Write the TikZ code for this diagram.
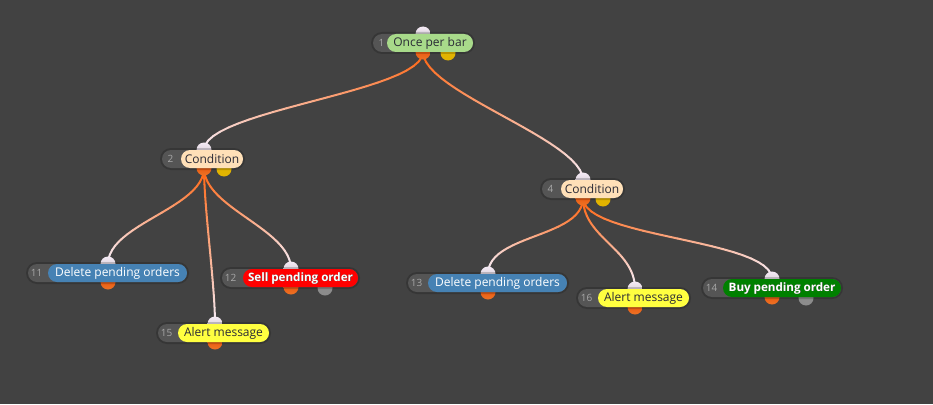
\documentclass[tikz,border=0pt]{standalone}
\usepackage{fontspec}
\setmainfont{Open Sans}
\definecolor{bg}{HTML}{424242}
\definecolor{dp}{HTML}{555555}
\definecolor{numc}{HTML}{A8A8A8}
\definecolor{txtd}{HTML}{2A2A36}
\definecolor{edgeO}{HTML}{FF6410}
\definecolor{edgeL}{HTML}{F6ECF6}
\definecolor{cgreen}{HTML}{A8DA8A}
\definecolor{cpeach}{HTML}{FFE0B8}
\definecolor{cblue}{HTML}{4682B4}
\definecolor{cred}{HTML}{FF0000}
\definecolor{cyel}{HTML}{FFFF40}
\definecolor{cbuy}{HTML}{008000}
\definecolor{korange}{HTML}{E85A00}
\definecolor{kyellow}{HTML}{E2B400}
\definecolor{kgrey}{HTML}{8C8C8C}
\definecolor{ktop}{HTML}{DCD2E0}
\tikzset{
  knobbox/.style={circle, inner sep=0pt, minimum size=15pt},
  topknob/.style={knobbox, top color=white!92!violet, bottom color=ktop!80!gray},
  outknob/.style={knobbox, top color=korange!80!red, bottom color=korange!85!white},
  yknob/.style={knobbox, fill=kyellow},
  gknob/.style={knobbox, fill=kgrey},
  numtxt/.style={text=numc, font=\fontsize{10}{11}\selectfont, inner sep=0pt},
  lbl/.style={text=txtd, font=\fontsize{12}{13}\selectfont, inner sep=0pt},
  lblw/.style={text=white, font=\fontsize{12}{13}\selectfont, inner sep=0pt},
  lblb/.style={text=white, font=\fontsize{11.6}{13}\selectfont\bfseries, inner sep=0pt},
  lblbs/.style={text=black!70, font=\fontsize{11.6}{13}\selectfont\bfseries, inner sep=0pt},
  edgeline/.style={line width=2pt, line cap=round},
  halo/.style={black, opacity=0.18, rounded corners=11pt},
}
% knob coordinates: name, x, yc
\newcommand\knobpts[3]{%
  \coordinate (#1-t) at (#2,#3-9);
  \coordinate (#1-b) at (#2,#3+9);
}
% gradient edge from parent bottom to child top
\newcommand\gedge[2]{%
  \path (#1-b) .. controls +(0,40) and +(0,-40) .. (#2-t)
    foreach \i [evaluate=\i as \p using \i/24] in {0,...,24}{coordinate[pos=\p] (g\i)};
  \foreach \i [evaluate=\i as \j using int(\i+1), evaluate=\i as \m using int(100*\i/23)] in {0,...,23}{%
    \draw[edgeline, color=edgeL!\m!edgeO] (g\i) -- (g\j);}
}
% dark pill with halo and number: xl, xe, yc, number
\newcommand\darkpill[4]{%
  \fill[halo] (#1-2,#3-11) rectangle (#2+2,#3+11);
  \fill[dp, rounded corners=9pt] (#1,#3-9) rectangle (#2,#3+9);
  \node[numtxt] at (#1+8.5,#3) {#4};
}
% pill: name, number, xl, xs, xe, yc, fill, label style, text
\newcommand\gpill[9]{%
  \darkpill{#3}{#5}{#6}{#2}
  \fill[#7, rounded corners=9pt] (#4,#6-9) rectangle (#5,#6+9);
  \node[#8] (#1) at ({(#4+#5)/2},#6) {#9};
}
\begin{document}
\begin{tikzpicture}[x=1pt,y=-1pt]
\fill[bg] (0,0) rectangle (933,404);
\useasboundingbox (0,0) rectangle (933,404);
% knob points
\knobpts{n1}{423}{43}
\knobpts{n2}{204}{159}
\knobpts{n4}{583}{189}
\knobpts{n11}{108}{273}
\knobpts{n12}{291}{278}
\knobpts{n15}{215}{333}
\knobpts{n13}{488}{283}
\knobpts{n16}{635}{298}
\knobpts{n14}{772}{288}
% edges
\gedge{n1}{n2}
\gedge{n1}{n4}
\gedge{n2}{n11}
\gedge{n2}{n15}
\gedge{n2}{n12}
\gedge{n4}{n13}
\gedge{n4}{n16}
\gedge{n4}{n14}
% knobs
\foreach \n in {n1,n2,n4,n11,n12,n15,n13,n16,n14}{%
  \node[topknob] at (\n-t) {};
  \node[outknob] at (\n-b) {};
}
\node[yknob] (n1-y) at (448,53) {};
\node[yknob] (n2-y) at (224,169) {};
\node[yknob] (n4-y) at (603,199) {};
\node[gknob] (n12-g) at (325,288) {};
\node[gknob] (n14-g) at (806,298) {};
% pills
\gpill{n1}{1}{373}{387}{473}{43}{cgreen}{lbl}{Once per bar}
\gpill{n2}{2}{162}{181}{243}{159}{cpeach}{lbl}{Condition}
\gpill{n4}{4}{542}{561}{623}{189}{cpeach}{lbl}{Condition}
\gpill{n11}{11}{28}{48}{187}{273}{cblue}{lblw}{Delete pending orders}
\darkpill{222}{358}{278}{12}
\fill[cred, rounded corners=9pt] (243,269) rectangle (358,287);
\node[lblbs] at (301,278.7) {Sell pending order};
\node[lblb] (n12) at (300.5,278) {Sell pending order};
\gpill{n15}{15}{158}{178}{269}{333}{cyel}{lbl}{Alert message}
\gpill{n13}{13}{408}{428}{567}{283}{cblue}{lblw}{Delete pending orders}
\gpill{n16}{16}{578}{598}{689}{298}{cyel}{lbl}{Alert message}
\darkpill{703}{841}{288}{14}
\fill[cbuy, rounded corners=9pt] (723,279) rectangle (841,297);
\node[lblbs] at (782.5,288.7) {Buy pending order};
\node[lblb] (n14) at (782,288) {Buy pending order};
\end{tikzpicture}
\end{document}
